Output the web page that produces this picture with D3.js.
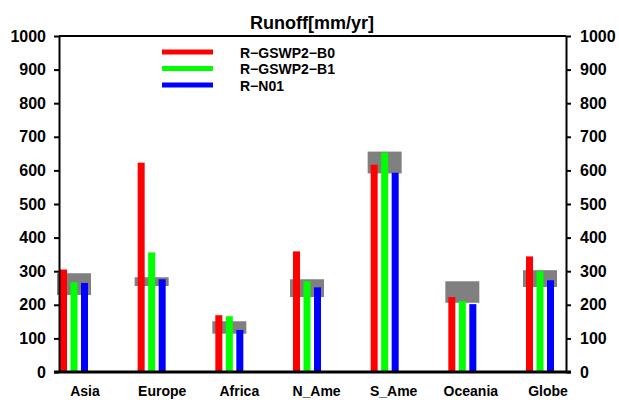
<!DOCTYPE html>
<meta charset="utf-8">
<style>

body {
  margin: 0;
}

text {
  font-family: "Liberation Sans", Arial, sans-serif;
  font-weight: bold;
}

</style>
<body>
<script src="https://d3js.org/d3.v7.min.js"></script>
<script>

var regions = ["Asia", "Europe", "Africa", "N_Ame", "S_Ame", "Oceania", "Globe"],
	seriesNames = ["R\u2212GSWP2\u2212B0", "R\u2212GSWP2\u2212B1", "R\u2212N01"],
	colors = ["#ff0000", "#00ff00", "#0000ff"],
	b0 = [305, 623, 169, 359, 617, 223, 344],
	b1 = [267, 356, 166, 270, 653, 211, 300],
	n01 = [265, 276, 125, 252, 593, 202, 273],
	// gray range box (low, high)
	rangeLow = [229, 256, 114, 223, 591, 206, 253],
	rangeHigh = [294, 282, 151, 276, 656, 270, 303],
	yTicks = [0, 100, 200, 300, 400, 500, 600, 700, 800, 900, 1000];

var width = 619,
	height = 400,
	plotLeft = 59,
	plotRight = 566,
	plotTop = 36,
	plotBottom = 372;

var svg = d3.select("body").append("svg")
	.attr("width", width)
	.attr("height", height);

var y = d3.scaleLinear().domain([0, 1000]).range([plotBottom, plotTop]);
// group centres for the bars
var x = d3.scaleLinear().domain([0, regions.length - 1]).range([74, 540]);
// label centres sit a little to the right
var xl = d3.scaleLinear().domain([0, regions.length - 1]).range([85, 548]);

var series = [b0, b1, n01],
	offsets = [-14, -3.5, 7],
	barW = 7;

// gray boxes behind bars
svg.selectAll("rect.range")
	.data(regions)
	.enter().append("rect")
	.attr("class", "range")
	.attr("x", function(d, i) { return x(i) - 17; })
	.attr("width", 34)
	.attr("y", function(d, i) { return y(rangeHigh[i]); })
	.attr("height", function(d, i) { return y(rangeLow[i]) - y(rangeHigh[i]); })
	.attr("fill", "#808080");

series.forEach(function(s, k) {
	svg.selectAll("rect.s" + k)
		.data(s)
		.enter().append("rect")
		.attr("class", "s" + k)
		.attr("x", function(d, i) { return x(i) + offsets[k]; })
		.attr("width", barW)
		.attr("y", function(d) { return y(d); })
		.attr("height", function(d) { return plotBottom - y(d); })
		.attr("fill", colors[k]);
});

// axes
var leftAxis = d3.axisLeft(y).tickValues(yTicks).tickFormat(d3.format("d"))
	.tickSize(5).tickPadding(8).tickSizeOuter(0);
var rightAxis = d3.axisRight(y).tickValues(yTicks).tickFormat(d3.format("d"))
	.tickSize(5).tickPadding(9).tickSizeOuter(0);

var gl = svg.append("g").attr("transform", "translate(" + plotLeft + ",0)").call(leftAxis);
var gr = svg.append("g").attr("transform", "translate(" + plotRight + ",0)").call(rightAxis);

[gl, gr].forEach(function(g) {
	g.select(".domain").attr("stroke", "#000").attr("stroke-width", 2);
	g.selectAll(".tick line").attr("stroke", "#000").attr("stroke-width", 2);
	g.selectAll(".tick text")
		.attr("fill", "#000")
		.style("font-size", "16px")
		.style("font-family", "'Liberation Sans', Arial, sans-serif")
		.style("font-weight", "bold");
});

// top and bottom frame
svg.append("line")
	.attr("x1", plotLeft).attr("x2", plotRight)
	.attr("y1", plotTop).attr("y2", plotTop)
	.attr("stroke", "#000").attr("stroke-width", 2);

svg.append("line")
	.attr("x1", plotLeft - 5).attr("x2", plotRight + 5)
	.attr("y1", y(0)).attr("y2", y(0))
	.attr("stroke", "#000").attr("stroke-width", 3);

// category labels
svg.selectAll("text.cat")
	.data(regions)
	.enter().append("text")
	.attr("class", "cat")
	.attr("x", function(d, i) { return xl(i); })
	.attr("y", 396)
	.attr("text-anchor", "middle")
	.style("font-size", "14px")
	.text(function(d) { return d; });

// title
svg.append("text")
	.attr("x", 312)
	.attr("y", 29)
	.attr("text-anchor", "middle")
	.style("font-size", "18px")
	.text("Runoff[mm/yr]");

// legend
var legend = svg.selectAll("g.legend")
	.data(seriesNames)
	.enter().append("g")
	.attr("class", "legend")
	.attr("transform", function(d, i) { return "translate(162," + (52 + i * 16.5) + ")"; });

legend.append("line")
	.attr("x1", 0).attr("x2", 51)
	.attr("stroke", function(d, i) { return colors[i]; })
	.attr("stroke-width", 5);

legend.append("text")
	.attr("x", 78)
	.attr("y", 5.5)
	.style("font-size", "14px")
	.text(function(d) { return d; });

</script>
</body>
</html>
